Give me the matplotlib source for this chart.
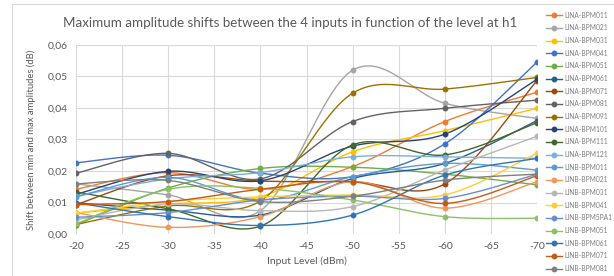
import numpy as np
import matplotlib.pyplot as plt
from matplotlib.patches import Rectangle
from matplotlib.lines import Line2D

plt.rcParams['font.family'] = ['Lato', 'DejaVu Sans']
plt.rcParams['axes.unicode_minus'] = False

levels = [-20, -30, -40, -50, -60, -70]

names = ['LINA-BPM011', 'LINA-BPM021', 'LINA-BPM031', 'LINA-BPM041', 'LINA-BPM051',
         'LINA-BPM061', 'LINA-BPM071', 'LINA-BPM081', 'LINA-BPM091', 'LINA-BPM101',
         'LINA-BPM111', 'LINA-BPM121', 'LINB-BPM011', 'LINB-BPM021', 'LINB-BPM031',
         'LINB-BPM041', 'LINB-BPM5PA1', 'LINB-BPM051', 'LINB-BPM061', 'LINB-BPM071',
         'LINB-BPM081']

colors = ['#ED7D31', '#A5A5A5', '#FFC000', '#4472C4', '#70AD47',
          '#255E91', '#9E480E', '#636363', '#997300', '#264478',
          '#43682B', '#7CAFDD', '#5B9BD5', '#F1975A', '#B7B7B7',
          '#FFCD33', '#698ED0', '#8CC168', '#2E75B6', '#C55A11',
          '#7F7F7F']

shifts = [
    [0.0142, 0.0195, 0.0142, 0.0214, 0.0357, 0.0450],
    [0.0159, 0.0124, 0.0074, 0.0520, 0.0415, 0.0367],
    [0.0066, 0.0095, 0.0118, 0.0261, 0.0328, 0.0399],
    [0.0226, 0.0250, 0.0193, 0.0182, 0.0286, 0.0546],
    [0.0029, 0.0146, 0.0208, 0.0212, 0.0190, 0.0156],
    [0.0099, 0.0076, 0.0060, 0.0176, 0.0224, 0.0360],
    [0.0093, 0.0185, 0.0168, 0.0166, 0.0159, 0.0487],
    [0.0193, 0.0256, 0.0175, 0.0357, 0.0399, 0.0425],
    [0.0030, 0.0089, 0.0105, 0.0447, 0.0460, 0.0497],
    [0.0126, 0.0199, 0.0169, 0.0279, 0.0317, 0.0491],
    [0.0134, 0.0080, 0.0025, 0.0283, 0.0251, 0.0353],
    [0.0120, 0.0175, 0.0195, 0.0245, 0.0245, 0.0240],
    [0.0118, 0.0180, 0.0108, 0.0182, 0.0224, 0.0203],
    [0.0068, 0.0021, 0.0055, 0.0166, 0.0082, 0.0166],
    [0.0045, 0.0095, 0.0074, 0.0087, 0.0203, 0.0310],
    [0.0066, 0.0103, 0.0118, 0.0124, 0.0124, 0.0256],
    [0.0053, 0.0068, 0.0108, 0.0120, 0.0113, 0.0190],
    [0.0032, 0.0142, 0.0145, 0.0108, 0.0055, 0.0050],
    [0.0099, 0.0055, 0.0027, 0.0060, 0.0187, 0.0240],
    [0.0093, 0.0103, 0.0142, 0.0166, 0.0097, 0.0185],
    [0.0159, 0.0170, 0.0103, 0.0120, 0.0171, 0.0190],
]


def smooth(x, y, n=30):
    # Excel-like smoothed line (Catmull-Rom as cubic Bezier)
    p = np.column_stack([x, y]).astype(float)
    ext = np.vstack([p[0], p, p[-1]])
    t = np.linspace(0, 1, n)[:, None]
    out = []
    for i in range(len(p) - 1):
        p0, p3 = ext[i + 1], ext[i + 2]
        b1 = p0 + (ext[i + 2] - ext[i]) / 6
        b2 = p3 - (ext[i + 3] - ext[i + 1]) / 6
        seg = (1 - t) ** 3 * p0 + 3 * (1 - t) ** 2 * t * b1 + 3 * (1 - t) * t ** 2 * b2 + t ** 3 * p3
        out.append(seg if i == 0 else seg[1:])
    out = np.vstack(out)
    return out[:, 0], out[:, 1]


fig = plt.figure(figsize=(6.14, 2.76), dpi=100)
fig.patches.append(Rectangle((12 / 614, -0.01), 1.0, 1 - 4 / 276 + 0.01, transform=fig.transFigure,
                             fill=False, edgecolor='#D9D9D9', linewidth=0.8))
ax = fig.add_axes([76 / 614, 1 - 234 / 276, (537 - 76) / 614, (234 - 45) / 276])

handles = []
for name, c, vals in zip(names, colors, shifts):
    sx, sy = smooth(levels, vals)
    ax.plot(sx, sy, color=c, linewidth=1.0, zorder=3)
    ax.plot(levels, vals, 'o', color=c, markersize=3.2, zorder=4)
    handles.append(Line2D([], [], color=c, linewidth=1.0, marker='o', markersize=3.2))

ax.set_xlim(-20, -70)
ax.set_ylim(0, 0.06)
ax.set_xticks(np.arange(-20, -71, -5))
ax.set_yticks(np.arange(0, 0.061, 0.01))
ax.set_yticklabels(['0,00', '0,01', '0,02', '0,03', '0,04', '0,05', '0,06'])
ax.grid(True, color='#D9D9D9', linewidth=0.8)
ax.set_axisbelow(True)
for s in ax.spines.values():
    s.set_visible(False)
ax.tick_params(length=0, labelsize=7.5, colors='#595959', pad=6)
ax.set_xlabel('Input Level (dBm)', fontsize=7.5, color='#595959', labelpad=4)
ax.set_ylabel('Shift between min and max amplitudes (dB)', fontsize=6.8, color='#595959', labelpad=8)
ax.set_title('Maximum amplitude shifts between the 4 inputs in function of the level at h1',
             fontsize=9.6, color='#595959', x=0.464, pad=13)

fig.legend(handles, names, loc='upper left', bbox_to_anchor=(543 / 614, 1 - 9 / 276),
           frameon=False, fontsize=4.8, handlelength=2.4, labelspacing=0.85,
           handletextpad=0.4, borderaxespad=0, labelcolor='#7F7F7F')

fig.savefig('out.png', dpi=100)
